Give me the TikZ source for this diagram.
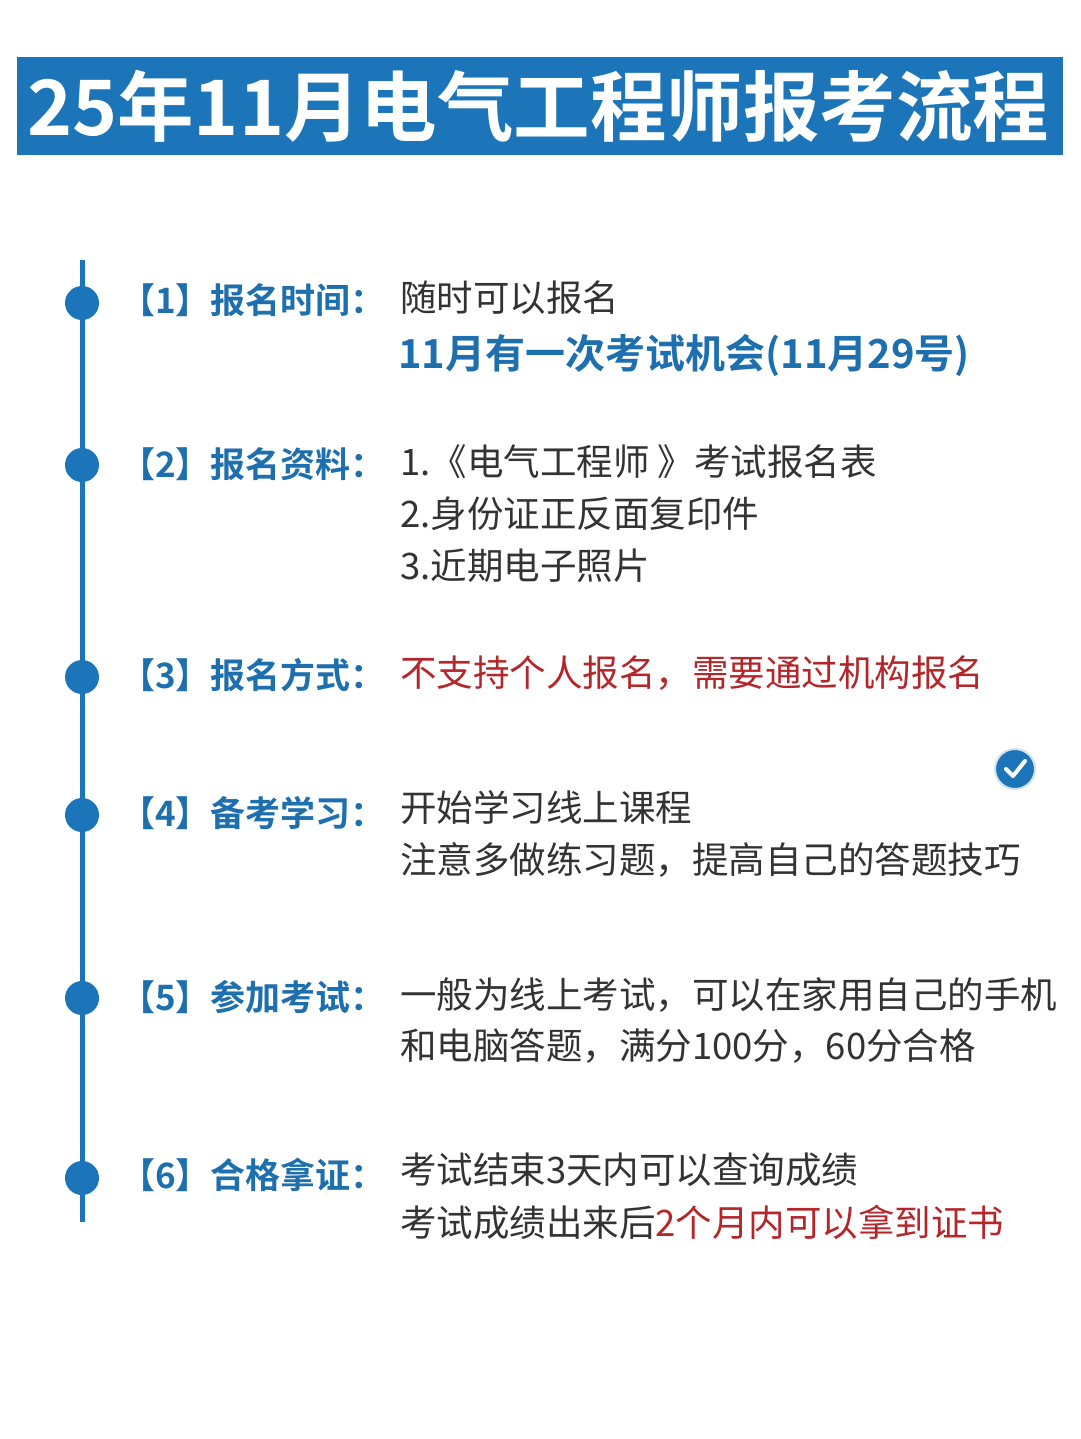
\documentclass[tikz,border=0pt]{standalone}
\usepackage{fontspec}
\setmainfont{Noto Sans CJK SC}
\newfontfamily\cjkb{Noto Sans CJK SC Bold}
\definecolor{tblue}{HTML}{1B75B8}
\definecolor{lblue}{HTML}{1E6FAE}
\definecolor{txt}{HTML}{333333}
\definecolor{dred}{HTML}{B3262A}
\tikzset{
 lbl/.style={anchor=west,text=lblue,font=\cjkb\fontsize{35}{38}\selectfont,inner sep=0},
 body/.style={anchor=west,text=txt,font=\fontsize{36.5}{40}\selectfont,inner sep=0},
 dot/.style={circle,fill=tblue,minimum size=34pt,inner sep=0},
}
\begin{document}
\begin{tikzpicture}[x=1pt,y=-1pt]
\useasboundingbox (0,0) rectangle (1080,1439);
\fill[white] (0,0) rectangle (1080,1439);
\fill[tblue] (17,57) rectangle (1063,155);
\node[anchor=west,text=white,font=\cjkb\fontsize{76.5}{80}\selectfont,inner sep=0] (title) at (27,106) {25年11月电气工程师报考流程};
\coordinate (ltop) at (82,260); \coordinate (lbot) at (82,1222);
\draw[tblue,line width=5pt] (ltop) -- (lbot);
\foreach \y/\n in {303/1,465/2,677/3,815/4,998/5,1178/6}{\node[dot] (d\n) at (82,\y) {};}
\node[lbl] (l1) at (120,300) {【1】报名时间：};
\node[lbl] (l2) at (120,464) {【2】报名资料：};
\node[lbl] (l3) at (120,675) {【3】报名方式：};
\node[lbl] (l4) at (120,813) {【4】备考学习：};
\node[lbl] (l5) at (120,997) {【5】参加考试：};
\node[lbl] (l6) at (120,1175) {【6】合格拿证：};
\node[body] (a1) at (400,298) {随时可以报名};
\node[body,text=lblue,font=\cjkb\fontsize{40}{42}\selectfont] (a2) at (398,355) {11月有一次考试机会(11月29号)};
\node[body] (b1) at (400,462) {1.《电气工程师 》考试报名表};
\node[body] (b2) at (400,514) {2.身份证正反面复印件};
\node[body] (b3) at (400,566) {3.近期电子照片};
\node[body,text=dred] (c1) at (400,673) {不支持个人报名，需要通过机构报名};
\node[body] (e1) at (400,808) {开始学习线上课程};
\node[body] (e2) at (400,860) {注意多做练习题，提高自己的答题技巧};
\node[body] (f1) at (400,995) {一般为线上考试，可以在家用自己的手机};
\node[body] (f2) at (400,1046) {和电脑答题，满分100分，60分合格};
\node[body] (g1) at (400,1170) {考试结束3天内可以查询成绩};
\node[body] (g2) at (400,1222) {考试成绩出来后\textcolor{dred}{2个月内可以拿到证书}};
\node[circle,fill=tblue,draw=white!80!tblue,line width=2pt,minimum size=40pt,inner sep=0] (chk) at (1015,769) {};
\draw[white,line width=4pt,line cap=round,line join=round] ([shift={(-9,0)}]chk.center) -- ([shift={(-2,7)}]chk.center) -- ([shift={(10,-8)}]chk.center);
\end{tikzpicture}
\end{document}
